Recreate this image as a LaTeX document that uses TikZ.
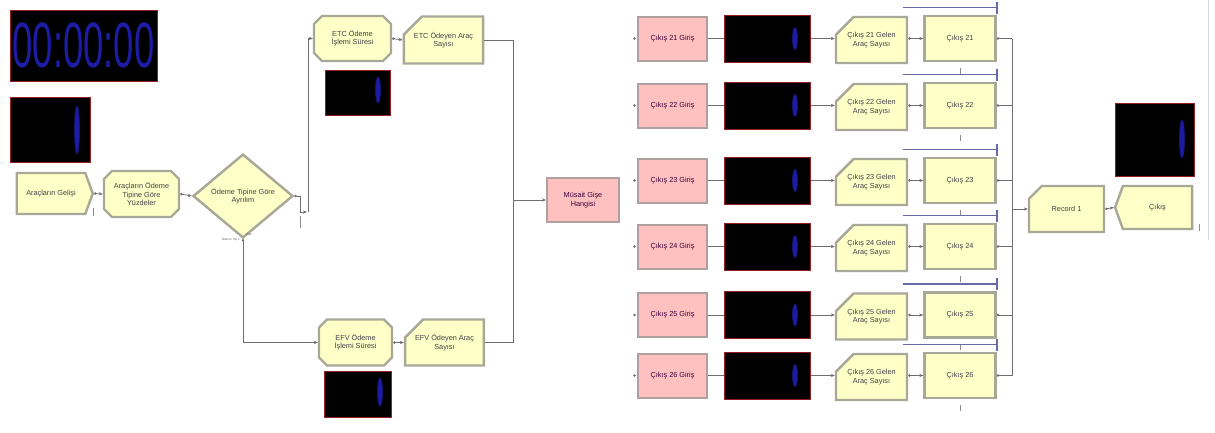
\documentclass[tikz,border=0pt]{standalone}
\usepackage{fontspec}
\setmainfont{Liberation Sans}
\usetikzlibrary{shapes.geometric,shapes.misc,shapes.symbols,arrows.meta}
\definecolor{modfill}{RGB}{255,255,200}
\definecolor{modedge}{RGB}{168,168,152}
\definecolor{pinkfill}{RGB}{255,192,192}
\definecolor{pinkedge}{RGB}{175,160,160}
\definecolor{digblue}{RGB}{28,28,165}
\definecolor{connc}{RGB}{110,110,110}
\definecolor{qline}{RGB}{105,105,165}
\definecolor{dispedge}{RGB}{150,30,30}
\definecolor{txt}{RGB}{70,60,70}
\tikzset{
  yel/.style={font=\fontsize{7.3}{8.4}\selectfont, text=txt, align=center, inner sep=1pt,
    draw=modedge, line width=2.4pt, fill=modfill},
  procbox/.style={yel, chamfered rectangle, chamfered rectangle xsep=4pt, chamfered rectangle ysep=4pt},
  recbox/.style={yel, chamfered rectangle, chamfered rectangle corners=north west,
    chamfered rectangle xsep=9pt, chamfered rectangle ysep=9pt},
  stbox/.style={yel, rectangle},
  createbox/.style={yel, signal, signal to=east, signal pointer angle=140},
  disposebox/.style={yel, signal, signal to=west, signal pointer angle=140},
  decbox/.style={yel, diamond},
  pinkbox/.style={rectangle, font=\fontsize{7.3}{8.4}\selectfont, text=violet!45!black, align=center,
    draw=pinkedge, line width=2pt, fill=pinkfill, minimum width=69pt, minimum height=44pt},
  disp/.style={rectangle, fill=black, draw=dispedge, line width=0.7pt, inner sep=0pt},
  digit/.style={ellipse, draw=digblue!70!black, fill=digblue, line width=0.8pt, minimum width=5pt, inner sep=0pt},
  conn/.style={draw=connc, line width=0.8pt},
  arr/.style={conn, {Circle[length=2.4pt]}-{Stealth[length=4pt,width=3.2pt]}},
  qln/.style={draw=qline, line width=1.1pt},
  tick/.style={draw=black!45, line width=0.6pt},
  tiny/.style={font=\fontsize{3}{3.5}\selectfont, text=black!60, inner sep=0pt}
}
\begin{document}
\begin{tikzpicture}[x=1pt,y=-1pt]
\useasboundingbox[fill=white] (0,0) rectangle (1215,432);

% ---------- left part ----------
\node[disp, minimum width=147pt, minimum height=71pt, text=digblue,
  font=\fontsize{64}{64}\selectfont] (clock) at (83.5,45.5) {\scalebox{0.57}[1]{00:00:00}};
\node[disp, minimum width=80pt, minimum height=65pt] (disp0) at (50,129.5) {};
\node[digit, minimum height=48pt] (dig0) at (77,130) {};

\node[createbox, minimum width=76pt, minimum height=41pt] (create) at (51,193.5) {Araçların Gelişi};
\node[procbox, minimum width=75pt, minimum height=46pt] (assign) at (141.5,194) {Araçların Ödeme\\Tipine Göre\\Yüzdeler};
\node[decbox, minimum width=100pt, minimum height=72pt] (decide) at (243,196) {Ödeme Tipine Göre\\Ayrılım};

\node[procbox, minimum width=77pt, minimum height=45pt] (etcP) at (352.5,38.5) {ETC Ödeme\\İşlemi Süresi};
\node[recbox, minimum width=75pt, minimum height=47pt] (etcR) at (443.5,40) {ETC Ödeyen Araç\\Sayısı};
\node[disp, minimum width=65pt, minimum height=45pt] (dispETC) at (357.5,92.5) {};
\node[digit, minimum height=26pt] (digETC) at (378,90) {};

\node[procbox, minimum width=73pt, minimum height=46pt] (efvP) at (355.5,342.5) {EFV Ödeme\\İşlemi Süresi};
\node[recbox, minimum width=73pt, minimum height=46pt] (efvR) at (444.5,342.5) {EFV Ödeyen Araç\\Sayısı};
\node[disp, minimum width=67pt, minimum height=46pt] (dispEFV) at (357.5,394.5) {};
\node[digit, minimum height=28pt] (digEFV) at (380,392) {};

\node[pinkbox, minimum width=72pt, minimum height=44pt] (musait) at (583,200) {Müsait Gişe\\Hangisi};

\draw[arr] (create.east) -- (assign.west);
\draw[arr] (assign.east) -- (decide.west);
\draw[conn, {Circle[length=2.4pt]}-{Stealth[length=4pt,width=3.2pt]}]
  (decide.east) -- (300,196) -- (300,212) -- (307,212);
\draw[conn, -{Stealth[length=4pt,width=3.2pt]}] (308,212) -- (308,38.5) -- (etcP.west);
\draw[tick] (300,216) -- (300,228);
\draw[arr] (decide.south) -- (decide.south |- efvP.west) -- (efvP.west);
\draw[arr] (etcP.east) -- (etcR.west);
\draw[arr] (efvP.east) -- (efvR.west);
\coordinate (mbT) at (513,40);
\coordinate (mbB) at (513,342.5);
\draw[conn] (etcR.east) -- (mbT) -- (mbB) -- (efvR.east);
\draw[conn, -{Stealth[length=4pt,width=3.2pt]}] (mbT |- musait.west) -- (musait.west);
\draw[tick] (93,208) -- (93,216);
\node[tiny, anchor=east] (lblF) at (240,240) {Ödeme Tipi 1};
\node[tiny, anchor=west] (lblE) at (246,234) {Else};

% ---------- right part ----------
\coordinate (busT) at (1012,38.5);
\coordinate (busB) at (1012,375.5);
\draw[conn] (busT) -- (busB);

\foreach \n/\y in {21/38.5, 22/105.5, 23/180.5, 24/246.5, 25/315, 26/375.5} {
  \node[pinkbox] (g\n) at (672.5,\y) {Çıkış \n{} Giriş};
  \node[recbox, minimum width=71pt, minimum height=46pt] (r\n) at (871.5,\y+1.5) {Çıkış \n{} Gelen\\Araç Sayısı};
  \node[stbox, minimum width=71pt, minimum height=45pt] (s\n) at (960,\y) {Çıkış \n};
  \fill[connc] ([xshift=-2.5pt]g\n.west) circle (1.3pt);
  \draw[conn, -{Stealth[length=4pt,width=3.2pt]}] (g\n.east) -- (g\n.east -| r\n.west);
  \node[disp, minimum width=86pt, minimum height=47pt] (d\n) at (767.5,\y) {};
  \node[digit, minimum height=22pt] (dg\n) at (795,\y) {};
  \draw[arr] (r\n.east |- s\n.west) -- (s\n.west);
  \draw[conn, {Circle[length=2.4pt]}-] (s\n.east) -- (s\n.east -| busT);
  \draw[qln] (903,\y-31) -- (997,\y-31);
  \draw[qln] (997,\y-37) -- (997,\y-25);
  \draw[tick] (960,\y+29) -- (960,\y+35);
}

\node[disp, minimum width=79pt, minimum height=73pt] (dispOut) at (1154.5,139.5) {};
\node[digit, minimum height=38pt] (digOut) at (1182,139) {};
\node[recbox, minimum width=75pt, minimum height=46pt] (rec1) at (1066.5,209) {Record 1};
\node[disposebox, minimum width=77pt, minimum height=43pt] (cikis) at (1157.5,207.5) {Çıkış};
\draw[conn, -{Stealth[length=4pt,width=3.2pt]}] (busT |- rec1.west) -- (rec1.west);
\draw[arr] (rec1.east) -- (cikis.west);
\draw[tick] (1199,224) -- (1199,231);
\draw[black!15, line width=0.8pt] (1208,0) -- (1208,240);
\end{tikzpicture}
\end{document}
